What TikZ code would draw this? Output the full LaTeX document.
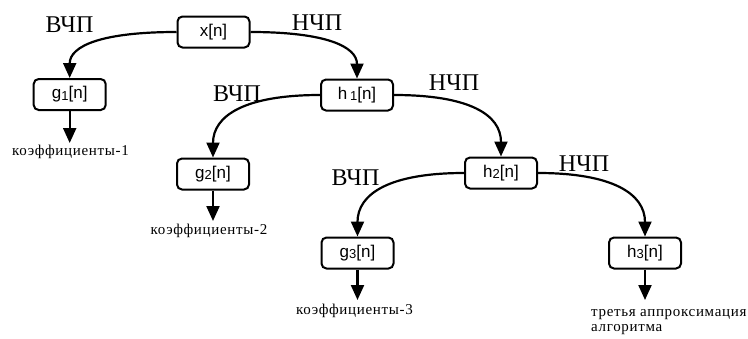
\documentclass[tikz,border=0pt]{standalone}
\usepackage{fontspec}
\setmainfont{Liberation Serif}
\newfontfamily\boxfont{Liberation Sans}
\newfontfamily\outfont[LetterSpace=4.5]{Liberation Serif}
\usetikzlibrary{arrows.meta}

% subscript digit for the filter names
\newcommand{\fsub}[1]{\raisebox{-1.5pt}{\fontsize{13}{13}\selectfont #1}}

\tikzset{
  filt/.style={draw, line width=2pt, rounded corners=5pt, minimum width=72pt,
    minimum height=31pt, inner sep=2pt, font=\boxfont\fontsize{17}{17}\selectfont},
  band/.style={anchor=base, inner sep=0pt, font=\fontsize{24}{24}\selectfont},
  outtext/.style={inner sep=0pt, font=\outfont\fontsize{15}{15}\selectfont},
  link/.style={line width=2.2pt, -{Triangle[length=15pt,width=13pt]}},
}

\begin{document}
\begin{tikzpicture}[x=1pt, y=-1pt]
  \useasboundingbox (0,0) rectangle (748,338);

  % filter blocks
  \node[filt] (x)  at (213.5,32) {x[n]};
  \node[filt] (g1) at (69.7,94.5) {g\fsub{1}[n]};
  \node[filt] (h1) at (357,95) {h\,\fsub{1}[n]};
  \node[filt] (g2) at (213,174) {g\fsub{2}[n]};
  \node[filt] (h2) at (501,173) {h\fsub{2}[n]};
  \node[filt] (g3) at (357.5,253) {g\fsub{3}[n]};
  \node[filt] (h3) at (645,253) {h\fsub{3}[n]};

  % band labels
  \node[band] (b1) at (69.5,32) {ВЧП};
  \node[band] (n1) at (317,30) {НЧП};
  \node[band] (b2) at (237,101) {ВЧП};
  \node[band] (n2) at (454,90.5) {НЧП};
  \node[band] (b3) at (355.5,185) {ВЧП};
  \node[band] (n3) at (584,171.5) {НЧП};

  % decomposition branches
  \draw[link] (x.west) .. controls +(-75,0) and +(0,-32) .. (g1.north);
  \draw[link] (x.east) .. controls +(75,0) and +(0,-32) .. (h1.north);
  \draw[link] (h1.west) .. controls +(-75,0) and +(0,-42) .. (g2.north);
  \draw[link] (h1.east) .. controls +(75,0) and +(0,-42) .. (h2.north);
  \draw[link] (h2.west) .. controls +(-74,0) and +(0,-43) .. (g3.north);
  \draw[link] (h2.east) .. controls +(74,0) and +(0,-43) .. (h3.north);

  % output ends
  \coordinate (a1) at (69.7,143);
  \coordinate (a2) at (213,221);
  \coordinate (a3) at (357.5,300);
  \coordinate (a4) at (645,300);

  \node[outtext, anchor=north] (c1) at (70.5,145) {коэффициенты-1};
  \node[outtext, anchor=north] (c2) at (209,224) {коэффициенты-2};
  \node[outtext, anchor=north] (c3) at (354.5,304) {коэффициенты-3};
  \node[outtext, anchor=north west, align=left] (c4) at (591,309)
    {третья аппроксимация\\алгоритма};

  \draw[link] (g1.south) -- (a1);
  \draw[link] (g2.south) -- (a2);
  \draw[link] (g3.south) -- (a3);
  \draw[link] (h3.south) -- (a4);
\end{tikzpicture}
\end{document}
